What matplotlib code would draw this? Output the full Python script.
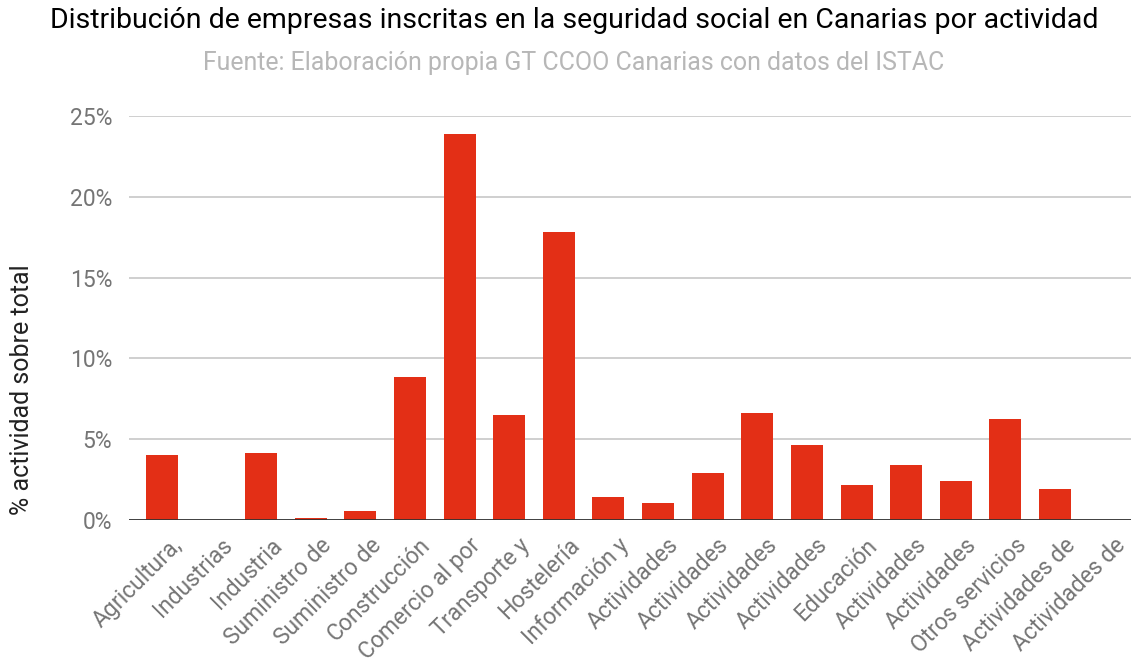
import matplotlib.pyplot as plt
from matplotlib.ticker import FuncFormatter
from matplotlib.transforms import ScaledTranslation

# Data
categorias = [
    'Agricultura,', 'Industrias', 'Industria', 'Suministro de', 'Suministro de',
    'Construcción', 'Comercio al por', 'Transporte y', 'Hostelería', 'Información y',
    'Actividades', 'Actividades', 'Actividades', 'Actividades', 'Educación',
    'Actividades', 'Actividades', 'Otros servicios', 'Actividades de', 'Actividades de',
]
porcentaje = [
    4.02, 0.0, 4.16, 0.1, 0.54,
    8.86, 23.9, 6.51, 17.8, 1.40,
    1.03, 2.90, 6.63, 4.66, 2.14,
    3.38, 2.41, 6.26, 1.90, 0.0,
]
yticks = [0, 5, 10, 15, 20, 25]

plt.rcParams['font.family'] = ['Roboto', 'DejaVu Sans']

fig = plt.figure(figsize=(11.31, 6.69), dpi=100)
ax = fig.add_axes([129 / 1131, 149 / 669, 1 - 129 / 1131, 404 / 669])

x = list(range(len(categorias)))
ax.bar(x, porcentaje, width=0.645, color='#e32f16', zorder=3)

ax.set_xlim(-0.66, 19.53)
ax.set_ylim(0, 25)
ax.set_yticks(yticks)
ax.yaxis.set_major_formatter(FuncFormatter(lambda v, p: f'{v:.0f}%'))
ax.grid(axis='y', color='#cccccc', linewidth=1.3, zorder=0)
ax.axhline(0, color='#333333', linewidth=2, zorder=4)

for s in ax.spines.values():
    s.set_visible(False)
ax.tick_params(axis='both', length=0)
ax.tick_params(axis='y', labelsize=16.5, labelcolor='#757575', pad=12)

ax.set_xticks(x)
ax.set_xticklabels(categorias, rotation=45, ha='right', rotation_mode='anchor',
                   fontsize=16.5, color='#757575')
ax.tick_params(axis='x', pad=10)
# nudge the rotated labels to the right like the original
shift = ScaledTranslation(9 / 100, 0, fig.dpi_scale_trans)
for lbl in ax.get_xticklabels():
    lbl.set_transform(lbl.get_transform() + shift)

fig.text(22 / 1131, 1 - 390 / 669, '% actividad sobre total', rotation=90,
         ha='center', va='center', fontsize=18, color='#222222')

fig.text(0.5075, 1 - 21 / 669, 'Distribución de empresas inscritas en la seguridad social en Canarias por actividad',
         ha='center', va='center', fontsize=20.5, color='#000000')
fig.text(0.5075, 1 - 63 / 669, 'Fuente: Elaboración propia GT CCOO Canarias con datos del ISTAC',
         ha='center', va='center', fontsize=17.9, color='#b7b7b7')

fig.savefig('out.png', dpi=100)
